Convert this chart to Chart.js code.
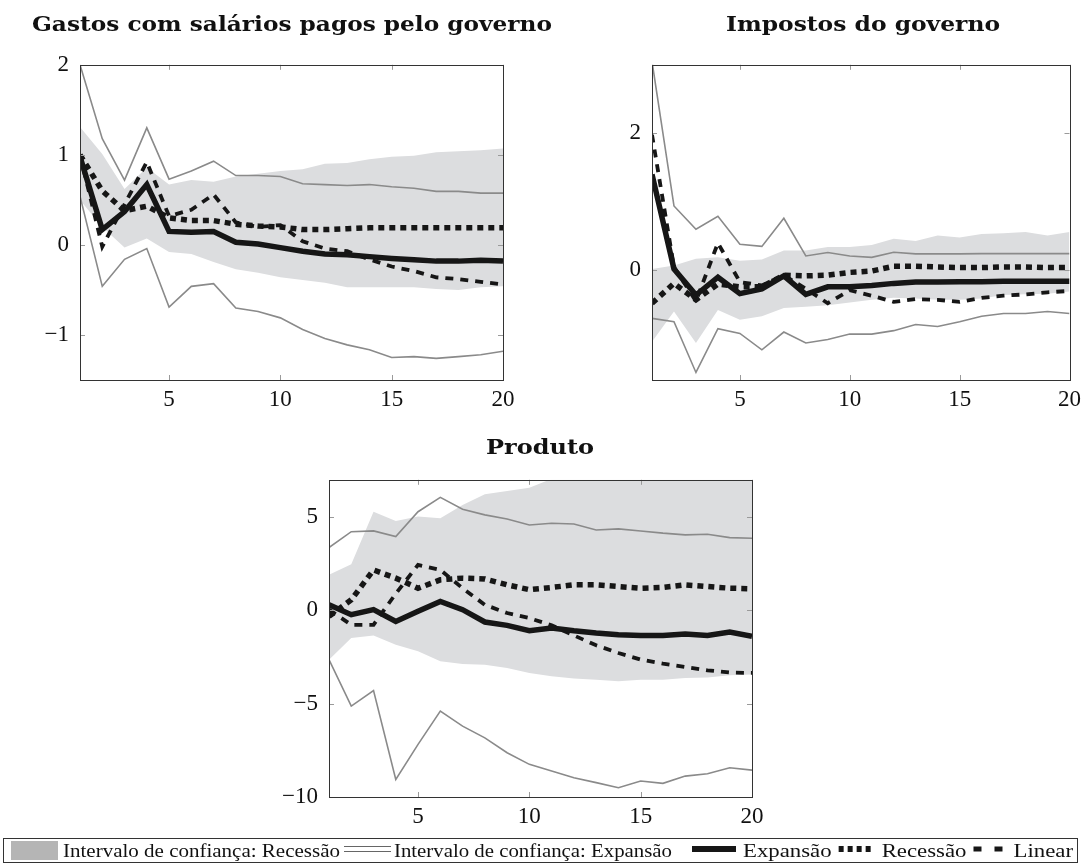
<!DOCTYPE html>
<html>
<head>
<meta charset="utf-8">
<script src="https://cdn.jsdelivr.net/npm/chart.js@4.4.1/dist/chart.umd.min.js"></script>
<style>
  html, body { margin: 0; padding: 0; background: #fff; }
  #page { position: relative; width: 1087px; height: 865px; overflow: hidden; }
  #page canvas { position: absolute; }
  #overlay { position: absolute; left: 0; top: 0; }
  .ttl { font-family: "DejaVu Serif", serif; font-weight: bold; font-size: 21px; fill: #111; }
  .leg { font-family: "Liberation Serif", serif; font-size: 19px; fill: #111; }
</style>
</head>
<body>
<div id="page">
  <canvas id="gastos" width="540" height="380" style="left:0;top:40px"></canvas>
  <canvas id="impostos" width="527" height="380" style="left:560px;top:40px"></canvas>
  <canvas id="produto" width="560" height="382" style="left:240px;top:455px"></canvas>
  <svg id="overlay" width="1087" height="865">
    <text class="ttl" x="292" y="31" text-anchor="middle" textLength="520" lengthAdjust="spacingAndGlyphs">Gastos com salários pagos pelo governo</text>
    <text class="ttl" x="863" y="31" text-anchor="middle" textLength="274" lengthAdjust="spacingAndGlyphs">Impostos do governo</text>
    <text class="ttl" x="540" y="454" text-anchor="middle" textLength="108" lengthAdjust="spacingAndGlyphs">Produto</text>

    <rect x="3.5" y="838.5" width="1074" height="24" fill="none" stroke="#333" stroke-width="1"/>
    <rect x="11" y="841" width="47" height="19" fill="#b5b5b5"/>
    <text class="leg" x="63" y="856.5" textLength="277" lengthAdjust="spacingAndGlyphs">Intervalo de confiança: Recessão</text>
    <line x1="344" y1="846.5" x2="391" y2="846.5" stroke="#666" stroke-width="1"/>
    <line x1="344" y1="851.5" x2="391" y2="851.5" stroke="#666" stroke-width="1"/>
    <text class="leg" x="394" y="856.5" textLength="278" lengthAdjust="spacingAndGlyphs">Intervalo de confiança: Expansão</text>
    <line id="symExp" x1="692" y1="849" x2="736" y2="849" stroke="#161616" stroke-width="6"/>
    <text id="txtExp" class="leg" x="744" y="856.5" lengthAdjust="spacingAndGlyphs">Expansão</text>
    <line id="symRec" x1="826" y1="849" x2="862" y2="849" stroke="#161616" stroke-width="6" stroke-dasharray="5 4"/>
    <text id="txtRec" class="leg" x="866" y="856.5" lengthAdjust="spacingAndGlyphs">Recessão</text>
    <line id="symLin" x1="960" y1="849" x2="993" y2="849" stroke="#161616" stroke-width="5" stroke-dasharray="8 13"/>
    <text id="txtLin" class="leg" x="1004" y="856.5" lengthAdjust="spacingAndGlyphs">Linear</text>
  </svg>
</div>

<script>
// Horizon (periods after the shock)
const steps = [1, 2, 3, 4, 5, 6, 7, 8, 9, 10, 11, 12, 13, 14, 15, 16, 17, 18, 19, 20];
const xTicks = [5, 10, 15, 20];

// Gastos com salários pagos pelo governo
const gastosBandaRecHi = [1.31, 1.01, 0.62, 0.86, 0.67, 0.72, 0.70, 0.76, 0.79, 0.82, 0.84, 0.90, 0.91, 0.95, 0.98, 0.99, 1.03, 1.04, 1.05, 1.07];
const gastosBandaRecLo = [0.50, 0.20, -0.03, 0.07, -0.08, -0.10, -0.19, -0.27, -0.31, -0.36, -0.39, -0.42, -0.47, -0.47, -0.47, -0.47, -0.49, -0.50, -0.47, -0.46];
const gastosBandaExpHi = [2.00, 1.18, 0.72, 1.30, 0.73, 0.82, 0.93, 0.77, 0.77, 0.76, 0.68, 0.67, 0.66, 0.67, 0.645, 0.63, 0.595, 0.595, 0.575, 0.575];
const gastosBandaExpLo = [0.54, -0.46, -0.16, -0.04, -0.69, -0.46, -0.43, -0.70, -0.74, -0.81, -0.94, -1.04, -1.11, -1.165, -1.25, -1.24, -1.26, -1.24, -1.22, -1.18];
const gastosExpansao = [0.98, 0.17, 0.37, 0.67, 0.15, 0.14, 0.15, 0.03, 0.01, -0.03, -0.07, -0.10, -0.11, -0.13, -0.15, -0.165, -0.18, -0.18, -0.17, -0.18];
const gastosRecessao = [1.00, 0.60, 0.38, 0.43, 0.30, 0.27, 0.27, 0.23, 0.21, 0.20, 0.17, 0.17, 0.18, 0.19, 0.19, 0.19, 0.19, 0.19, 0.19, 0.19];
const gastosLinear = [1.00, -0.02, 0.45, 0.92, 0.32, 0.39, 0.56, 0.25, 0.20, 0.22, 0.04, -0.04, -0.07, -0.16, -0.24, -0.29, -0.36, -0.38, -0.41, -0.44];
const gastosYTicks = [-1, 0, 1, 2];

// Impostos do governo
const impostosBandaRecHi = [0.02, 0.07, 0.17, 0.19, 0.14, 0.16, 0.29, 0.29, 0.34, 0.34, 0.37, 0.46, 0.43, 0.51, 0.48, 0.53, 0.54, 0.56, 0.51, 0.56];
const impostosBandaRecLo = [-1.04, -0.60, -1.06, -0.58, -0.72, -0.67, -0.55, -0.53, -0.51, -0.47, -0.43, -0.40, -0.41, -0.43, -0.43, -0.41, -0.36, -0.35, -0.34, -0.31];
const impostosBandaExpHi = [3.05, 0.94, 0.60, 0.79, 0.38, 0.35, 0.76, 0.21, 0.26, 0.21, 0.19, 0.265, 0.24, 0.24, 0.24, 0.245, 0.245, 0.245, 0.245, 0.245];
const impostosBandaExpLo = [-0.70, -0.75, -1.49, -0.85, -0.92, -1.16, -0.90, -1.06, -1.01, -0.93, -0.93, -0.88, -0.79, -0.82, -0.75, -0.67, -0.63, -0.63, -0.60, -0.63];
const impostosExpansao = [1.40, 0.02, -0.36, -0.10, -0.34, -0.27, -0.08, -0.35, -0.24, -0.24, -0.22, -0.19, -0.17, -0.17, -0.165, -0.165, -0.16, -0.16, -0.16, -0.16];
const impostosRecessao = [-0.48, -0.19, -0.43, -0.20, -0.24, -0.24, -0.07, -0.08, -0.07, -0.03, -0.01, 0.06, 0.06, 0.05, 0.04, 0.04, 0.05, 0.05, 0.04, 0.04];
const impostosLinear = [1.98, 0.05, -0.45, 0.40, -0.17, -0.22, -0.07, -0.27, -0.48, -0.29, -0.37, -0.46, -0.42, -0.43, -0.46, -0.40, -0.37, -0.35, -0.32, -0.30];
const impostosYTicks = [0, 2];

// Produto
const produtoBandaRecHi = [1.91, 2.48, 5.29, 4.79, 5.03, 4.94, 5.65, 6.22, 6.40, 6.58, 7.05, 7.2, 7.3, 7.4, 7.4, 7.5, 7.5, 7.6, 7.6, 7.7];
const produtoBandaRecLo = [-2.64, -1.48, -1.35, -1.84, -2.19, -2.73, -2.87, -2.91, -3.08, -3.35, -3.53, -3.65, -3.71, -3.80, -3.71, -3.71, -3.62, -3.60, -3.48, -3.44];
const produtoBandaExpHi = [3.37, 4.22, 4.26, 3.96, 5.29, 6.06, 5.42, 5.12, 4.90, 4.58, 4.67, 4.63, 4.31, 4.37, 4.26, 4.14, 4.05, 4.08, 3.90, 3.87];
const produtoBandaExpLo = [-2.64, -5.13, -4.30, -9.06, -7.18, -5.40, -6.20, -6.83, -7.63, -8.25, -8.61, -8.97, -9.23, -9.50, -9.14, -9.27, -8.88, -8.75, -8.43, -8.56];
const produtoExpansao = [0.30, -0.23, 0.04, -0.59, -0.05, 0.48, 0.04, -0.62, -0.80, -1.09, -0.94, -1.09, -1.21, -1.30, -1.34, -1.34, -1.27, -1.34, -1.16, -1.39];
const produtoRecessao = [-0.32, 0.57, 2.17, 1.73, 1.19, 1.64, 1.73, 1.69, 1.37, 1.11, 1.23, 1.37, 1.37, 1.28, 1.19, 1.23, 1.37, 1.28, 1.19, 1.16];
const produtoLinear = [0.04, -0.77, -0.77, 0.90, 2.44, 2.17, 1.19, 0.30, -0.14, -0.41, -0.80, -1.34, -1.87, -2.28, -2.64, -2.85, -3.03, -3.21, -3.33, -3.35];
const produtoYTicks = [-10, -5, 0, 5];

const INK = '#161616';
const BAND = '#dcdddf';
const CI_LINE = '#8a8a8a';
const TICK_FONT = { family: '"Liberation Serif", serif', size: 23 };

const pts = arr => steps.map((s, i) => ({ x: s, y: arr[i] }));
const fmt = v => (v < 0 ? '\u2212' + Math.abs(v) : String(v));

// Lay out the right-hand legend entries one after another, widened like the long labels
(function layoutLegend() {
  const set = (id, a) => { const el = document.getElementById(id); for (const k in a) el.setAttribute(k, a[k]); return el; };
  const widen = 1.2;
  let x = 692;
  const entries = [['symExp', 'txtExp', 44], ['symRec', 'txtRec', 36], ['symLin', 'txtLin', 33]];
  entries.forEach(([sym, txt, w]) => {
    set(sym, { x1: x, x2: x + w });
    const t = set(txt, { x: x + w + 7 });
    const tw = t.getComputedTextLength() * widen;
    t.setAttribute('textLength', tw.toFixed(1));
    x = x + w + 7 + tw + 7;
  });
})();

// Box around the plot area with short inward tick marks on all four sides
const frameTicks = {
  id: 'frameTicks',
  afterDraw(chart) {
    const { ctx, chartArea: a, scales: { x, y } } = chart;
    ctx.save();
    ctx.strokeStyle = '#9a9a9a';
    ctx.lineWidth = 1;
    ctx.beginPath();
    x.ticks.forEach(t => {
      const px = Math.round(x.getPixelForValue(t.value)) + 0.5;
      ctx.moveTo(px, a.bottom); ctx.lineTo(px, a.bottom - 5);
      ctx.moveTo(px, a.top); ctx.lineTo(px, a.top + 5);
    });
    y.ticks.forEach(t => {
      const py = Math.round(y.getPixelForValue(t.value)) + 0.5;
      ctx.moveTo(a.left, py); ctx.lineTo(a.left + 5, py);
      ctx.moveTo(a.right, py); ctx.lineTo(a.right - 5, py);
    });
    ctx.stroke();
    ctx.strokeStyle = '#333';
    ctx.strokeRect(Math.round(a.left) + 0.5, Math.round(a.top) + 0.5,
                   Math.round(a.right - a.left), Math.round(a.bottom - a.top));
    ctx.restore();
  }
};

function panel(id, s, yMin, yMax, yTicks, pad, yWidth) {
  const base = { pointRadius: 0, tension: 0, fill: false };
  new Chart(document.getElementById(id), {
    type: 'line',
    data: {
      datasets: [
        { ...base, data: pts(s.recHi), borderWidth: 0, backgroundColor: BAND, fill: '+1', order: 5 },
        { ...base, data: pts(s.recLo), borderWidth: 0, order: 5 },
        { ...base, data: pts(s.expHi), borderColor: CI_LINE, borderWidth: 1.6, order: 4 },
        { ...base, data: pts(s.expLo), borderColor: CI_LINE, borderWidth: 1.6, order: 4 },
        { ...base, data: pts(s.linear), borderColor: INK, borderWidth: 3.8, borderDash: [8, 7], order: 3 },
        { ...base, data: pts(s.recessao), borderColor: INK, borderWidth: 5.5, borderDash: [6, 5], order: 2 },
        { ...base, data: pts(s.expansao), borderColor: INK, borderWidth: 5.5, order: 1 }
      ]
    },
    options: {
      responsive: false,
      animation: false,
      devicePixelRatio: 1,
      layout: { padding: pad },
      plugins: {
        legend: { display: false },
        tooltip: { enabled: false },
        filler: { drawTime: 'beforeDatasetsDraw' }
      },
      scales: {
        x: {
          type: 'linear', min: 1, max: 20,
          grid: { display: false, drawTicks: false },
          border: { display: false },
          afterBuildTicks: ax => { ax.ticks = xTicks.map(v => ({ value: v })); },
          afterFit: ax => { ax.height = 40; },
          ticks: { font: TICK_FONT, color: '#111', padding: 6, maxRotation: 0, callback: v => fmt(v) }
        },
        y: {
          min: yMin, max: yMax,
          grid: { display: false, drawTicks: false },
          border: { display: false },
          afterBuildTicks: ax => { ax.ticks = yTicks.map(v => ({ value: v })); },
          afterFit: ax => { ax.width = yWidth; },
          ticks: { font: TICK_FONT, color: '#111', padding: 11, callback: v => fmt(v) }
        }
      }
    },
    plugins: [frameTicks]
  });
}

panel('gastos', {
  recHi: gastosBandaRecHi, recLo: gastosBandaRecLo, expHi: gastosBandaExpHi, expLo: gastosBandaExpLo,
  expansao: gastosExpansao, recessao: gastosRecessao, linear: gastosLinear
}, -1.5, 2, gastosYTicks, { left: 0, right: 37, top: 22, bottom: 0 }, 80);

panel('impostos', {
  recHi: impostosBandaRecHi, recLo: impostosBandaRecLo, expHi: impostosBandaExpHi, expLo: impostosBandaExpLo,
  expansao: impostosExpansao, recessao: impostosRecessao, linear: impostosLinear
}, -1.6, 3, impostosYTicks, { left: 0, right: 13, top: 22, bottom: 0 }, 92);

panel('produto', {
  recHi: produtoBandaRecHi, recLo: produtoBandaRecLo, expHi: produtoBandaExpHi, expLo: produtoBandaExpLo,
  expansao: produtoExpansao, recessao: produtoRecessao, linear: produtoLinear
}, -10, 7, produtoYTicks, { left: 0, right: 48, top: 22, bottom: 0 }, 89);
</script>
</body>
</html>
